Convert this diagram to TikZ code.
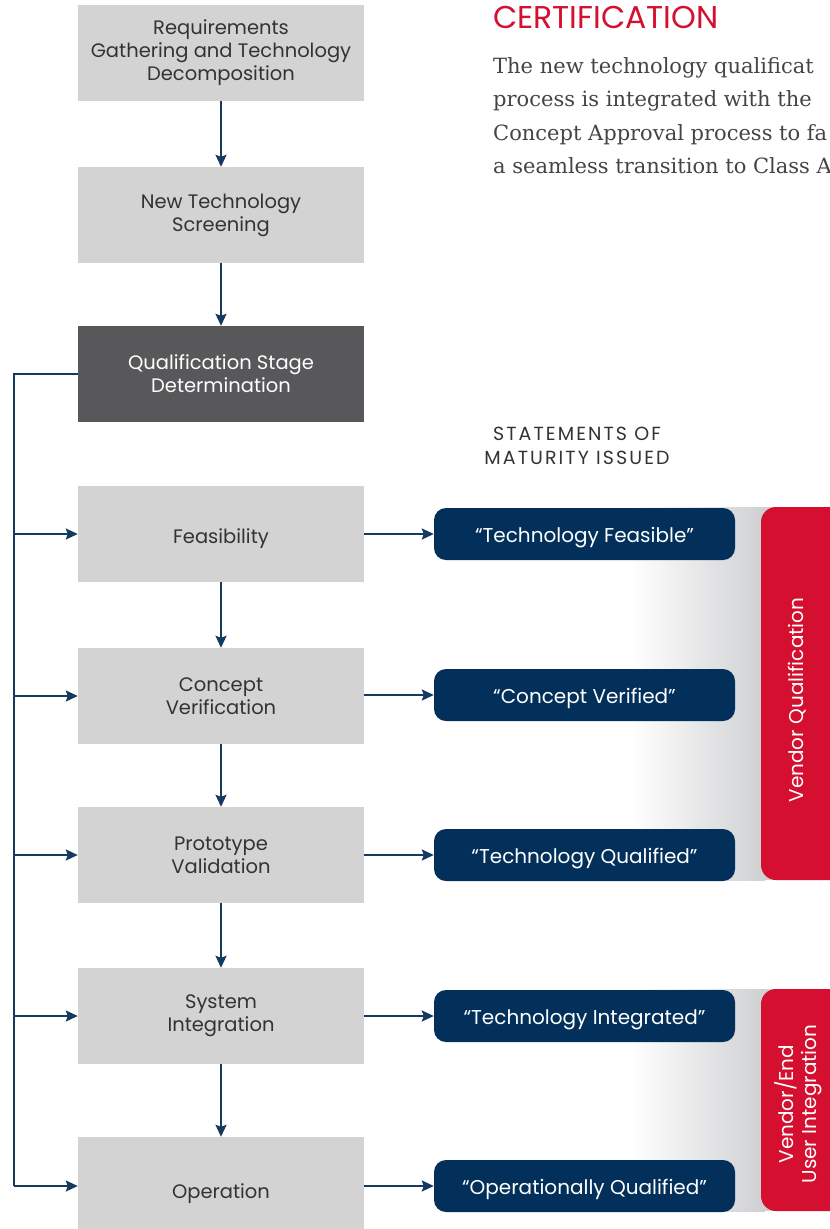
\documentclass[tikz,border=0pt]{standalone}
\usepackage{fontspec}
\setmainfont{DejaVu Serif}
\newfontfamily\gotham{Poppins}
\newfontfamily\gothamwide[LetterSpace=11]{Poppins}
\usetikzlibrary{arrows.meta}
\definecolor{boxgray}{HTML}{D3D3D4}
\definecolor{darkbox}{HTML}{58585A}
\definecolor{navy}{HTML}{02305A}
\definecolor{arrowc}{HTML}{15395F}
\definecolor{redc}{HTML}{D40F2F}
\definecolor{bandgray}{HTML}{CFD0D2}
\definecolor{bodyc}{HTML}{444446}
\definecolor{stagetext}{HTML}{333335}
\begin{document}
\begin{tikzpicture}[x=1pt,y=-1pt,
  stage/.style={fill=boxgray, minimum width=286pt, minimum height=96pt, inner sep=0pt, align=center, text=stagetext, font=\gotham\fontsize{19.5}{23}\selectfont},
  oneline/.style={text height=19pt, text depth=0pt},
  darkstage/.style={stage, fill=darkbox, text=white},
  statement/.style={fill=navy, rounded corners=12pt, minimum width=301pt, minimum height=52pt, inner sep=0pt, text=white, text height=16pt, text depth=0pt, font=\gotham\fontsize{20}{23}\selectfont},
  redbar/.style={fill=redc, rounded corners=15pt, inner sep=0pt},
  redlabel/.style={rotate=90, text=white, align=center, font=\gotham\fontsize{20}{23}\selectfont},
  bodyline/.style={anchor=base west, inner sep=0pt, text=bodyc, font=\fontsize{21}{33}\selectfont},
  flow/.style={draw=arrowc, line width=2pt, -{Stealth[length=12pt,width=11pt,inset=2pt]}},
  bus/.style={draw=arrowc, line width=2pt}
]
\useasboundingbox (0,0) rectangle (830,1229);

% gradient bands
\shade[left color=white, right color=bandgray] (630,507) rectangle (765,880);
\fill[bandgray] (764,507) rectangle (830,880);
\shade[left color=white, right color=bandgray] (630,989) rectangle (765,1211);
\fill[bandgray] (764,989) rectangle (830,1211);

% red bars
\node[redbar, minimum width=100pt, minimum height=373pt] (vq) at (811,693.5) {};
\node[redbar, minimum width=100pt, minimum height=222pt] (vu) at (811,1100) {};
\node[redlabel] (vqt) at (797,700) {Vendor Qualification};
\node[redlabel] (vut) at (798,1104) {Vendor/End\\User Integration};

% stages
\node[stage] (req) at (221,53) {Requirements\\Gathering and Technology\\Decomposition};
\node[stage] (nts) at (221,215) {New Technology\\Screening};
\node[darkstage] (qsd) at (221,374) {Qualification Stage\\Determination};
\node[stage, oneline] (fea) at (221,534) {Feasibility};
\node[stage] (con) at (221,696) {Concept\\Verification};
\node[stage] (pro) at (221,855) {Prototype\\Validation};
\node[stage] (sys) at (221,1016) {System\\Integration};
\node[stage, oneline, minimum height=104pt] (ope) at (221,1189) {Operation};

% statements
\node[statement] (s1) at (584.5,534) {“Technology Feasible”};
\node[statement] (s2) at (584.5,695) {“Concept Verified”};
\node[statement] (s3) at (584.5,855) {“Technology Qualified”};
\node[statement] (s4) at (584.5,1016) {“Technology Integrated”};
\node[statement] (s5) at (584.5,1186) {“Operationally Qualified”};

% header texts
\node[align=center, text=stagetext, font=\gothamwide\fontsize{19}{24}\selectfont] (soi) at (577,446) {STATEMENTS OF\\MATURITY ISSUED};
\node[anchor=base west, inner sep=0pt, text=redc, font=\gotham\fontsize{31.5}{34}\selectfont] (cert) at (493,28) {CERTIFICATION};
\begin{scope}
\clip (480,40) rectangle (830,200);
\node[bodyline] (b1) at (493,73) {The new technology qualificat};
\node[bodyline] (b2) at (493,106.5) {process is integrated with the};
\node[bodyline] (b3) at (493,140) {Concept Approval process to fa};
\node[bodyline] (b4) at (493,173) {a seamless transition to Class A};
\end{scope}

% vertical flow
\draw[flow] (req) -- (nts);
\draw[flow] (nts) -- (qsd);
\draw[flow] (fea) -- (con);
\draw[flow] (con) -- (pro);
\draw[flow] (pro) -- (sys);
\draw[flow] (sys) -- (ope);

% left bus
\coordinate (bt) at (14,374);
\coordinate (bb) at (14,1186);
\draw[bus] (qsd.west) -- (bt) -- (bb);
\draw[flow] (14,534) -- (fea.west);
\draw[flow] (14,696) -- (con.west);
\draw[flow] (14,855) -- (pro.west);
\draw[flow] (14,1016) -- (sys.west);
\draw[flow] (bb) -- (ope.west |- bb);

% right arrows
\draw[flow] (fea) -- (s1);
\draw[flow] (con.east |- s2) -- (s2);
\draw[flow] (pro) -- (s3);
\draw[flow] (sys) -- (s4);
\draw[flow] (ope.east |- s5) -- (s5);
\end{tikzpicture}
\end{document}
